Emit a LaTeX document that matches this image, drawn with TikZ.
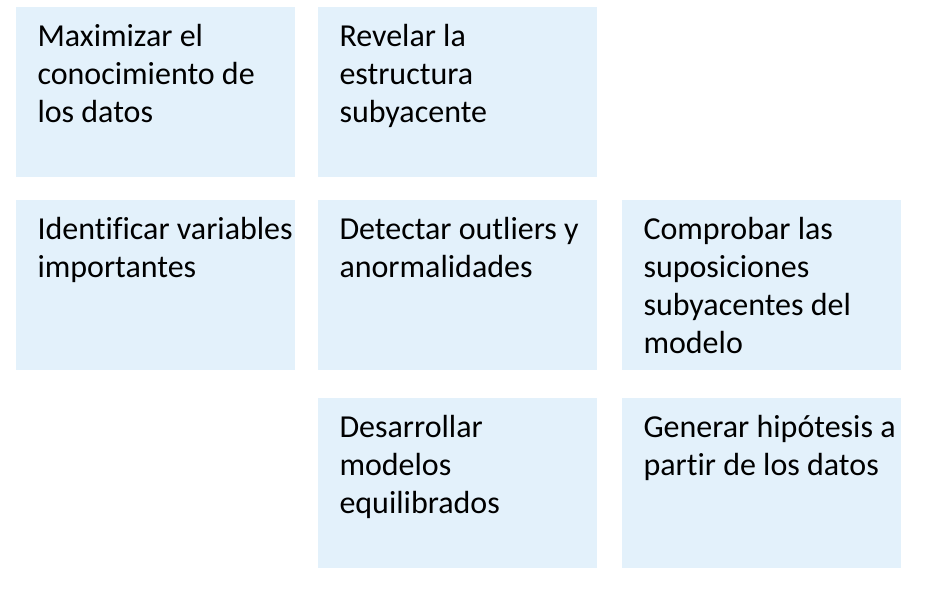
\documentclass[tikz,border=0pt]{standalone}
\usepackage{fontspec}
\setmainfont{Carlito}[Ligatures=NoCommon]
\definecolor{cellblue}{RGB}{227,241,251}
\tikzset{
  cell/.style={draw=none,fill=cellblue,minimum width=279pt,minimum height=170pt,inner sep=0pt},
  celltext/.style={anchor=north west,align=left,inner sep=0pt,xshift=21.5pt,yshift=-13pt,
    font=\fontsize{32}{38}\selectfont}
}
\begin{document}
\begin{tikzpicture}[x=1pt,y=-1pt]
			\useasboundingbox (0,0) rectangle (932,601);
			% first row
			\node[cell] (maxim) at (155.5,92) {};
			\node[cell] (revel) at (457.5,92) {};
			% second row
			\node[cell] (ident) at (155.5,285) {};
			\node[cell] (detect) at (457.5,285) {};
			\node[cell] (compr) at (761.5,285) {};
			% third row
			\node[cell] (desarr) at (457.5,483) {};
			\node[cell] (gener) at (761.5,483) {};
			% texts
			\node[celltext] (maximtxt) at (maxim.north west) {\strut Maximizar el\\conocimiento de\\los datos};
			\node[celltext] (reveltxt) at (revel.north west) {\strut Revelar la\\estructura\\subyacente};
			\node[celltext] (identtxt) at (ident.north west) {\strut Identificar variables\\importantes};
			\node[celltext] (detecttxt) at (detect.north west) {\strut Detectar outliers y\\anormalidades};
			\node[celltext] (comprtxt) at (compr.north west) {\strut Comprobar las\\suposiciones\\subyacentes del\\modelo};
			\node[celltext] (desarrtxt) at (desarr.north west) {\strut Desarrollar\\modelos\\equilibrados};
			\node[celltext] (genertxt) at (gener.north west) {\strut Generar hipótesis a\\partir de los datos};
		\end{tikzpicture}
\end{document}
